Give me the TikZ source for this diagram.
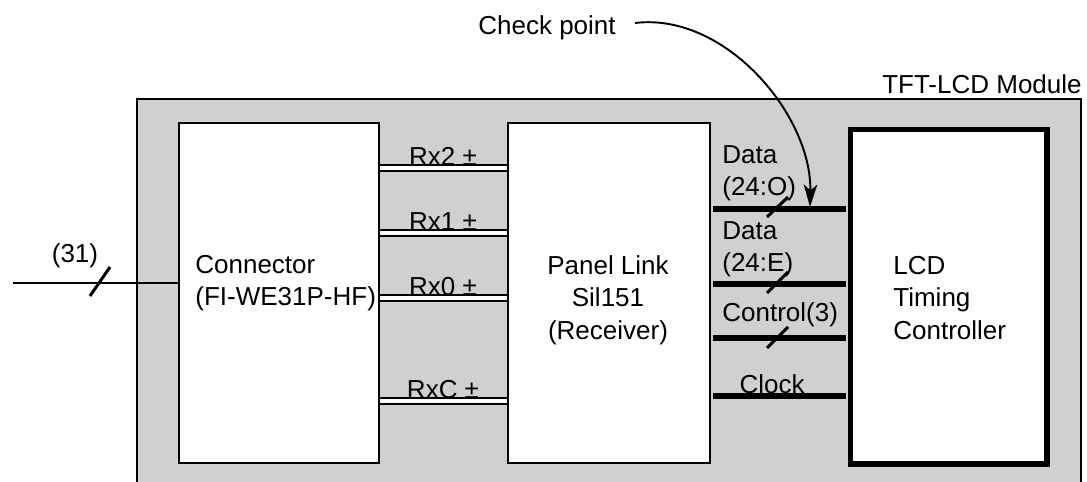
\documentclass[tikz,border=0pt]{standalone}
\usepackage{fontspec}
\setmainfont{Liberation Sans}
\usetikzlibrary{arrows.meta}
\definecolor{modgray}{HTML}{D0D0D0}

\begin{document}
\begin{tikzpicture}[x=0.02cm,y=-0.02cm]

    \tikzset{
      block/.style={
        draw,
        fill=white,
        line width=1.1pt,
        inner sep=0pt,
        anchor=north west,
      },
      lbl/.style={inner sep=0pt, font=\fontsize{14.8}{18.5}\selectfont},
      pairline/.style={line width=1.1pt, double distance=2.3pt},
      busline/.style={line width=3.3pt, shorten <=0.04cm, shorten >=0.04cm},
      slash/.style={line width=1.7pt},
    }
    \useasboundingbox (0,0) rectangle (1087,481);

    % module frame
    \draw[color={black},fill=modgray,line width=0.9pt] (137,99) rectangle (1081,500);
    \node[lbl,anchor=base east] (modlbl) at (1082,93) {TFT-LCD Module};

    % blocks
    \node[block,minimum width=4cm,minimum height=6.8cm] (conn) at (178,122) {};
    \node[block,minimum width=4.04cm,minimum height=6.8cm] (panel) at (507,122) {};
    \node[block,line width=3pt,minimum width=3.94cm,minimum height=6.7cm] (lcd) at (847.5,126.5) {};

    \node[lbl,anchor=west,align=left] (conntxt) at (195,283) {Connector\\(FI-WE31P-HF)};
    \node[lbl,align=center] (paneltxt) at (608,300) {Panel Link\\Sil151\\(Receiver)};
    \node[lbl,anchor=west,align=left] (lcdtxt) at (893,298) {LCD\\Timing\\Controller};

    % input
    \coordinate (in) at (13,283);
    \draw[color={black},line width=1.1pt] (in) -- (conn.west |- in);
    \draw[slash] (90,296) -- (110,267);
    \node[lbl,anchor=base] (inlbl) at (75,262) {(31)};

    % differential pairs
    \foreach \y/\n in {168/Rx2,233/Rx1,298/Rx0,401/RxC}{
      \draw[pairline] (conn.east |- 0,\y) -- (panel.west |- 0,\y);
      \node[lbl,anchor=base] (lbl\n) at (443,\y-3) {\n\ ±};
    }

    % buses to timing controller
    \foreach \y/\n in {209/odd,284/even,338/ctrl,396/clk}{
      \draw[busline] (panel.east |- 0,\y) -- (lcd.west |- 0,\y);
    }
    \draw[slash] (767,217) -- (788,197);
    \draw[slash] (767,293) -- (788,272);
    \draw[slash] (767,348) -- (788,327);

    \node[lbl,anchor=west,align=left] (oddlbl) at (722,173) {Data\\(24:O)};
    \node[lbl,anchor=west,align=left] (evenlbl) at (722,249) {Data\\(24:E)};
    \node[lbl,anchor=west] (ctrllbl) at (722,315) {Control(3)};
    \node[lbl,anchor=base] (clklbl) at (772,393) {Clock};

    % check point
    \node[lbl,anchor=base west] (chk) at (478,34) {Check point};
    \coordinate (cpt) at (810,207);
    \draw[color={black},line width=1.1pt,-{Stealth[length=0.45cm,width=0.27cm,inset=0.12cm]}]
      (635,23) .. controls (725,12) and (812,115) .. (cpt);

\end{tikzpicture}
\end{document}
